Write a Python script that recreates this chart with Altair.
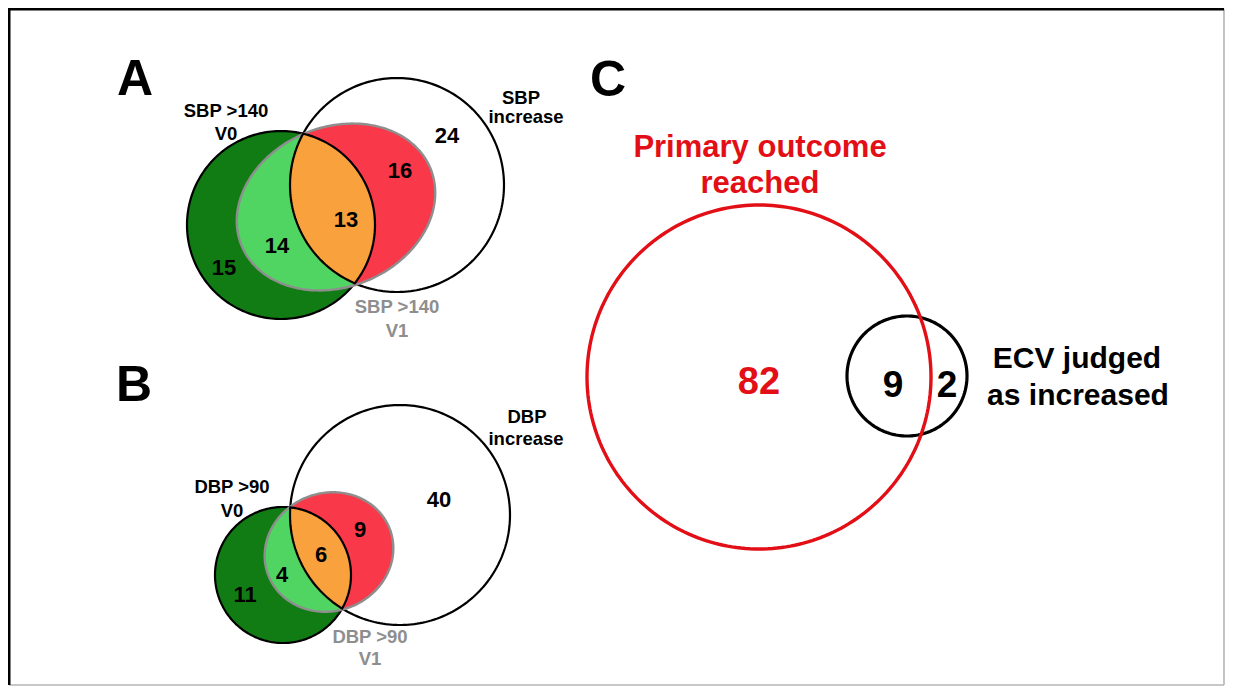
import numpy as np
import pandas as pd
import altair as alt

# ---------------- data ----------------
panel_letters = ["A", "B", "C"]

# Panel A (systolic blood pressure)
a_set_labels = ["SBP >140\nV0", "SBP\nincrease", "SBP >140\nV1"]
a_regions = ["V0 only", "V0 & V1", "V0 & V1 & increase", "V1 & increase", "increase only"]
a_counts = [15, 14, 13, 16, 24]

# Panel B (diastolic blood pressure)
b_set_labels = ["DBP >90\nV0", "DBP\nincrease", "DBP >90\nV1"]
b_regions = ["V0 only", "V0 & V1", "V0 & V1 & increase", "V1 & increase", "increase only"]
b_counts = [11, 4, 6, 9, 40]

# Panel C
c_set_labels = ["Primary outcome\nreached", "ECV judged\nas increased"]
c_regions = ["primary only", "both", "ECV only"]
c_counts = [82, 9, 2]

# ---------------- layout (image pixel units) ----------------
# shapes: (cx, cy, rx, ry, tilt_deg)
GEOM = {
    "A": {"v0": (281, 225, 94, 94, 0), "inc": (397, 185, 107, 107, 0), "v1": (336, 207, 102, 80, 22)},
    "B": {"v0": (283, 575, 68, 68, 0), "inc": (400, 515, 110, 110, 0), "v1": (329, 552, 65, 59, 20)},
    "C": {"prim": (759, 377, 172, 172, 0), "ecv": (907, 376, 60, 60, 0)},
}
FRAME = {"left": 9.2, "top": 9.2, "right": 1224, "bottom": 685}
LETTER_POS = [(135, 95), (134, 401), (608, 96)]
A_SET_POS = [[(226, 117), (226, 140)], [(521, 104), (526, 123)], [(397, 313), (397, 337)]]
A_CNT_POS = [(224, 275), (277, 253), (346, 227), (400, 178), (447, 143)]
B_SET_POS = [[(232, 493), (232, 517)], [(527, 423), (526, 445)], [(370, 643), (370, 665)]]
B_CNT_POS = [(245, 602), (282, 582), (321, 562), (360, 537), (439, 507)]
C_SET_POS = [[(760, 157), (760, 193)], [(1077, 368), (1078, 405)]]
C_CNT_POS = [(759, 394), (893, 397), (947, 397)]

DARK_GREEN = "#127c14"
LIGHT_GREEN = "#50d562"
ORANGE = "#f8a13d"
RED = "#f9394a"
GREY = "#8e8e8e"
C_RED = "#e30f16"
FONT = "Liberation Sans"


def ellipse(cx, cy, rx, ry, tilt, n=240):
    t = np.linspace(0, 2 * np.pi, n, endpoint=False)
    a = np.deg2rad(tilt)
    x, y = rx * np.cos(t), ry * np.sin(t)
    xs = cx + x * np.cos(a) + y * np.sin(a)
    ys = cy - x * np.sin(a) + y * np.cos(a)
    return [(float(u), float(v)) for u, v in zip(xs, ys)]


def signed_area(poly):
    s = 0.0
    for i in range(len(poly)):
        x1, y1 = poly[i]
        x2, y2 = poly[(i + 1) % len(poly)]
        s += x1 * y2 - x2 * y1
    return s / 2


def clip(subject, clipper):
    sgn = 1.0 if signed_area(clipper) > 0 else -1.0
    out = list(subject)
    n = len(clipper)
    for i in range(n):
        if not out:
            break
        a = clipper[i]
        b = clipper[(i + 1) % n]

        def side(p):
            return sgn * ((b[0] - a[0]) * (p[1] - a[1]) - (b[1] - a[1]) * (p[0] - a[0]))

        inp, out = out, []
        m = len(inp)
        for j in range(m):
            p, q = inp[j], inp[(j + 1) % m]
            sp, sq = side(p), side(q)
            if sp >= 0:
                out.append(p)
            if (sp >= 0) != (sq >= 0):
                t = sp / (sp - sq)
                out.append((p[0] + t * (q[0] - p[0]), p[1] + t * (q[1] - p[1])))
    return out


def feature(poly, name, fill="transparent", stroke="transparent", sw=0.0):
    ring = [[round(x, 2), round(y, 2)] for x, y in poly]
    ring.append(ring[0])
    return {
        "type": "Feature",
        "geometry": {"type": "Polygon", "coordinates": [ring]},
        "properties": {"name": name, "fill": fill, "stroke": stroke, "sw": sw},
    }


def polyline(points, name, stroke, sw):
    return {
        "type": "Feature",
        "geometry": {"type": "LineString", "coordinates": [[x, y] for x, y in points]},
        "properties": {"name": name, "fill": "transparent", "stroke": stroke, "sw": sw},
    }


f = FRAME
features = [
    polyline([(f["right"], f["bottom"]), (f["right"], f["top"])], "frame right", "#b5b5b5", 1.6),
    polyline([(f["left"], f["bottom"]), (f["right"], f["bottom"])], "frame bottom", "#b5b5b5", 1.6),
    polyline([(f["left"], f["bottom"]), (f["left"], f["top"]), (f["right"], f["top"])], "frame", "black", 2.6),
]
for key in ["A", "B"]:
    g = GEOM[key]
    v0, inc, v1 = ellipse(*g["v0"]), ellipse(*g["inc"]), ellipse(*g["v1"])
    v1v0 = clip(v1, v0)
    all3 = clip(v1v0, inc)
    lens = clip(v0, inc)
    features += [
        feature(inc, key + " increase", "white", "black", 2.2),
        feature(v0, key + " V0", DARK_GREEN, "black", 2.2),
        feature(v1, key + " V1", RED),
        feature(v1v0, key + " V0&V1", LIGHT_GREEN),
        feature(all3, key + " all", ORANGE),
        feature(v1, key + " V1 outline", "transparent", GREY, 2.4),
        feature(lens, key + " lens outline", "transparent", "black", 2.2),
    ]
gc = GEOM["C"]
features += [
    feature(ellipse(*gc["ecv"]), "ECV", "transparent", "black", 3.2),
    feature(ellipse(*gc["prim"]), "Primary", "transparent", C_RED, 3.4),
]

# ---------------- text table ----------------
rows = []
for letter, (x, y) in zip(panel_letters, LETTER_POS):
    rows.append({"text": letter, "x": x, "y": y, "size": 50, "color": "black"})


def add_sets(labels, positions, colors, sizes):
    for lab, pos, col, sz in zip(labels, positions, colors, sizes):
        for line, (x, y) in zip(lab.split("\n"), pos):
            rows.append({"text": line, "x": x, "y": y, "size": sz, "color": col})


def add_counts(counts, positions, colors, sizes):
    for c, (x, y), col, sz in zip(counts, positions, colors, sizes):
        rows.append({"text": str(c), "x": x, "y": y, "size": sz, "color": col})


add_sets(a_set_labels, A_SET_POS, ["black", "black", GREY], [18.5, 18.5, 18.5])
add_counts(a_counts, A_CNT_POS, ["black"] * 5, [22, 22, 22, 22, 22])
add_sets(b_set_labels, B_SET_POS, ["black", "black", GREY], [18.5, 18.5, 18.5])
add_counts(b_counts, B_CNT_POS, ["black"] * 5, [22, 22, 22, 22, 22])
add_sets(c_set_labels, C_SET_POS, [C_RED, "black"], [31, 30])
add_counts(c_counts, C_CNT_POS, [C_RED, "black", "black"], [38, 37, 37])
text_df = pd.DataFrame(rows)

proj = dict(type="identity", scale=1, translate=[-8, -8])

shapes = (
    alt.Chart(alt.Data(values=features))
    .mark_geoshape()
    .encode(
        fill=alt.Fill("properties.fill:N", scale=None),
        stroke=alt.Stroke("properties.stroke:N", scale=None),
        strokeWidth=alt.StrokeWidth("properties.sw:Q", scale=None),
    )
    .project(**proj)
)

texts = (
    alt.Chart(text_df)
    .mark_text(font=FONT, fontWeight="bold", align="center", baseline="alphabetic")
    .encode(
        longitude="x:Q",
        latitude="y:Q",
        text="text:N",
        size=alt.Size("size:Q", scale=None),
        color=alt.Color("color:N", scale=None),
    )
    .project(**proj)
)

chart = (
    alt.layer(shapes, texts)
    .properties(width=1217, height=678, padding=0, autosize="none", background="white")
)

chart.save("out.html", embed_options={"renderer": "svg", "actions": False})
